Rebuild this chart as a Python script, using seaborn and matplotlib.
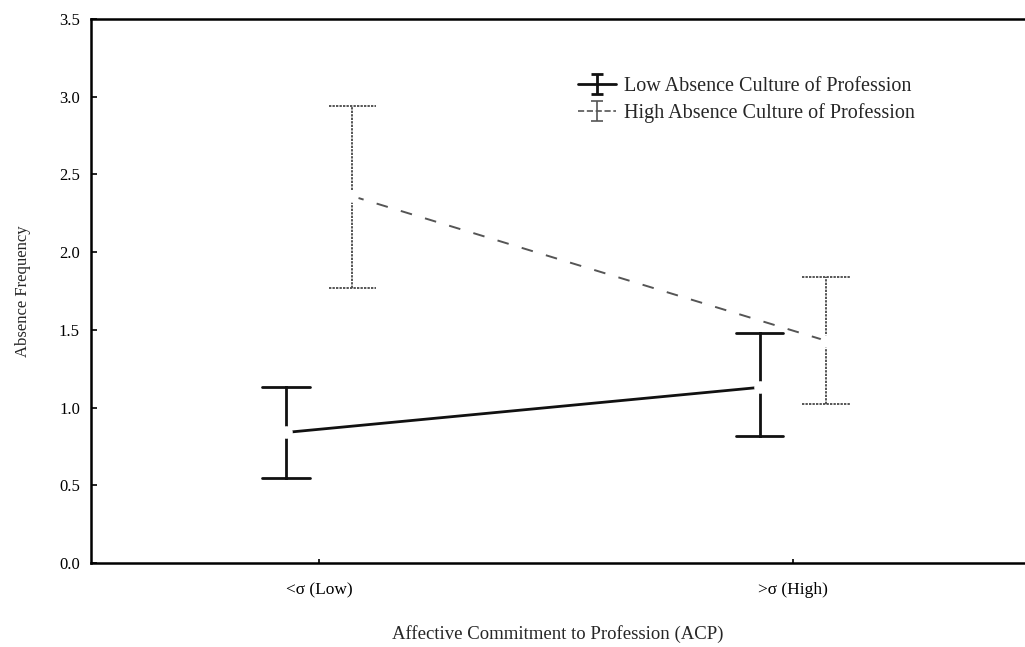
import numpy as np
import pandas as pd
import matplotlib
matplotlib.use("Agg")
import matplotlib.pyplot as plt
import seaborn as sns
from matplotlib.container import ErrorbarContainer
from matplotlib.lines import Line2D
from matplotlib.collections import LineCollection

# ---- data ----
acp_levels = ["<σ (Low)", ">σ (High)"]
series = ["Low Absence Culture of Profession", "High Absence Culture of Profession"]
low_mean = [0.84, 1.13]
low_lower = [0.55, 0.82]
low_upper = [1.13, 1.48]
high_mean = [2.36, 1.43]
high_lower = [1.77, 1.02]
high_upper = [2.94, 1.84]
yticks = [0.0, 0.5, 1.0, 1.5, 2.0, 2.5, 3.0, 3.5]

rows = []
for s, (m, lo, hi) in zip(series, [(low_mean, low_lower, low_upper),
                                   (high_mean, high_lower, high_upper)]):
    for i, a in enumerate(acp_levels):
        for v in (lo[i], m[i], hi[i]):
            rows.append({"ACP": a, "Series": s, "Absence": v})
df = pd.DataFrame(rows)

sns.set_theme(style="white")
plt.rcParams["font.family"] = ["Liberation Serif", "DejaVu Serif"]

LOW_C = "#111111"
HIGH_C = "#555555"

fig = plt.figure(figsize=(10.25, 6.47), dpi=100)
ax = fig.add_axes([91 / 1025, 1 - 563 / 647, 1 - 91 / 1025, (563 - 19) / 647])

sns.pointplot(data=df, x="ACP", y="Absence", hue="Series", order=acp_levels,
              hue_order=series, palette=[LOW_C, HIGH_C], estimator="median",
              errorbar=("pi", 100), dodge=0.14, capsize=0.10,
              markers="o", linestyles=["-", "--"], ax=ax, legend=False)

for ln in ax.lines:
    c = matplotlib.colors.to_hex(ln.get_color())
    is_high = c == HIGH_C
    if ln.get_marker() not in (None, "None", "", " "):
        # connecting line with white gap at the mean
        ln.set_markerfacecolor("white")
        ln.set_markeredgecolor("white")
        ln.set_markersize(7)
        ln.set_zorder(5)
        if is_high:
            ln.set_linewidth(1.4)
            ln.set_dashes([6, 7])
        else:
            ln.set_linewidth(2.0)
    else:
        if is_high:
            ln.set_linewidth(1.4)
            ln.set_linestyle((0, (1.2, 0.6)))
        else:
            ln.set_linewidth(2.0)

ax.set_xlim(-0.482, 1.49)
ax.set_ylim(0, 3.5)
ax.set_yticks(yticks)
ax.set_yticklabels([f"{t:.1f}" for t in yticks])
ax.tick_params(axis="y", direction="in", length=4, width=1.2, pad=8,
               labelsize=12, left=True, colors="black")
ax.tick_params(axis="x", direction="in", length=3, width=1.2, pad=14,
               labelsize=12.5, bottom=True, colors="black")
ax.set_xlabel("Affective Commitment to Profession (ACP)", fontsize=13.5, labelpad=19)
ax.set_ylabel("Absence Frequency", fontsize=12, labelpad=20)

for side in ["left", "bottom", "top"]:
    ax.spines[side].set_visible(True)
    ax.spines[side].set_color("black")
    ax.spines[side].set_linewidth(1.8)
ax.spines["right"].set_visible(False)


def eb_handle(color, ls, lw):
    data_line = Line2D([], [], color=color, linestyle=ls, linewidth=lw)
    cap = Line2D([], [], color=color, marker="_", markersize=9,
                 linestyle="none", markeredgewidth=lw)
    bar = LineCollection([], colors=color, linewidths=lw, linestyles="-")
    return ErrorbarContainer((data_line, (cap, cap), (bar,)),
                             has_xerr=False, has_yerr=True)


handles = [eb_handle(LOW_C, "-", 2.0), eb_handle(HIGH_C, "--", 1.2)]
ax.legend(handles, series, loc="upper left", bbox_to_anchor=(0.5016, 0.926),
          frameon=False, fontsize=14.5, handlelength=1.9, handletextpad=0.4,
          labelspacing=0.33)

fig.savefig("out.png", dpi=100)
